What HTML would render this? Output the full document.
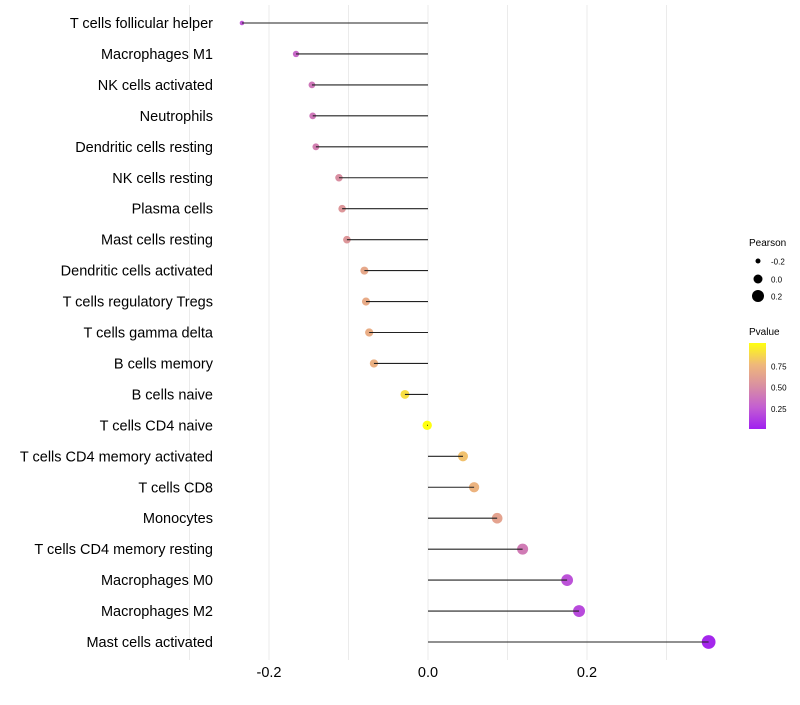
<!DOCTYPE html>
<html><head><meta charset="utf-8"><style>
body{margin:0;background:#fff;font-family:"Liberation Sans",sans-serif}
svg text{font-family:"Liberation Sans",sans-serif}
</style></head><body>
<svg id="chart" width="800" height="700">
<defs><linearGradient id="pg" x1="0" y1="1" x2="0" y2="0">
<stop offset="0" stop-color="#a020f0"/><stop offset="0.25" stop-color="#c35ed2"/><stop offset="0.5" stop-color="#d98fa2"/><stop offset="0.75" stop-color="#efb87a"/><stop offset="1" stop-color="#ffff10"/>
</linearGradient></defs>
<g id="grid"></g><g id="dots"></g><g id="marks"></g><g id="labels"></g>
<g>
<text x="749" y="246" font-size="10">Pearson</text>
<circle cx="758" cy="261" r="2.5" fill="#000"/>
<text x="771" y="264.5" font-size="8">-0.2</text>
<circle cx="758" cy="279" r="4.5" fill="#000"/>
<text x="771" y="282.5" font-size="8">0.0</text>
<circle cx="758" cy="296" r="6" fill="#000"/>
<text x="771" y="299.5" font-size="8">0.2</text>
<text x="749" y="335" font-size="10">Pvalue</text>
<rect x="749" y="343" width="17" height="86" fill="url(#pg)"/>
<text x="771" y="369.5" font-size="8">0.75</text>
<text x="771" y="390.5" font-size="8">0.50</text>
<text x="771" y="412" font-size="8">0.25</text>
</g>
</svg>
<script>
const categories=["T cells follicular helper","Macrophages M1","NK cells activated","Neutrophils","Dendritic cells resting","NK cells resting","Plasma cells","Mast cells resting","Dendritic cells activated","T cells regulatory  Tregs ","T cells gamma delta","B cells memory","B cells naive","T cells CD4 naive","T cells CD4 memory activated","T cells CD8","Monocytes","T cells CD4 memory resting","Macrophages M0","Macrophages M2","Mast cells activated"];
const pearson=[-0.234,-0.166,-0.146,-0.145,-0.141,-0.112,-0.108,-0.102,-0.080,-0.078,-0.074,-0.068,-0.029,-0.001,0.044,0.058,0.087,0.119,0.175,0.190,0.353];
const pvalue=[0.22,0.3,0.38,0.38,0.42,0.5,0.55,0.55,0.65,0.67,0.68,0.7,0.88,1.0,0.78,0.72,0.62,0.4,0.2,0.17,0.03];
const xTicks=[-0.2,0.0,0.2];
const NS="http://www.w3.org/2000/svg";
function xs(v){return 428+v*795;}
function ys(i){return 23+i*30.95;}
function rs(v){return Math.sqrt(Math.max(1.5,22+72*v));}
const stops=[[0,[160,32,240]],[0.25,[195,94,210]],[0.5,[217,143,162]],[0.75,[239,184,122]],[1,[255,255,16]]];
function col(p){p=Math.max(0,Math.min(1,p));for(let k=1;k<stops.length;k++){if(p<=stops[k][0]){const a=stops[k-1],b=stops[k],t=(p-a[0])/(b[0]-a[0]);return "rgb("+a[1].map((c,j)=>Math.round(c+(b[1][j]-c)*t)).join(",")+")";}}}
function mk(tag,at,parent){const e=document.createElementNS(NS,tag);for(const k in at)e.setAttribute(k,at[k]);document.getElementById(parent).appendChild(e);return e;}
const grid=[-0.3,-0.2,-0.1,0,0.1,0.2,0.3];
grid.forEach(g=>{const l=mk("line",{x1:xs(g),x2:xs(g),y1:5,y2:660,stroke:"#ebebeb","stroke-width":1},"grid");

});
categories.forEach((c,i)=>{const y=ys(i);
const d=mk("circle",{cx:xs(pearson[i]),cy:y,r:rs(pearson[i]),fill:col(pvalue[i])},"dots");


const s=mk("line",{x1:xs(0),x2:xs(pearson[i]),y1:y,y2:y,stroke:"#222","stroke-width":1.1},"marks");


const t=mk("text",{x:213,y:y+5,"text-anchor":"end","font-size":14.5,fill:"#000","xml:space":"preserve"},"labels");
t.textContent=c;

});
xTicks.forEach(v=>{const t=mk("text",{x:xs(v),y:677,"text-anchor":"middle","font-size":14.5},"labels");
t.textContent=v.toFixed(1);

});
</script>
</body></html>
